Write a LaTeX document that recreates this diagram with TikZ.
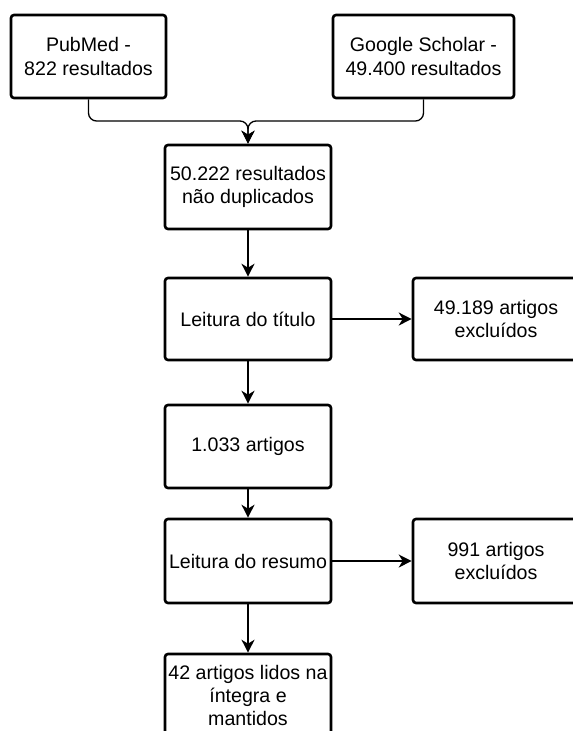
\documentclass[tikz,border=0pt]{standalone}
\usepackage{fontspec}
\setmainfont{Liberation Sans}
\usetikzlibrary{arrows.meta}
\begin{document}
\begin{tikzpicture}[x=1pt,y=-1pt,
  box/.style={draw=black, line width=2.6pt, rounded corners=3pt, rectangle, inner sep=0pt,
    align=center, font=\fontsize{19.6}{23.3}\selectfont, fill=white},
  conn/.style={draw=black, line width=1.3pt, -{Stealth[length=13pt,width=13pt,inset=4pt]}}]
\useasboundingbox (0,0) rectangle (573,731);
\node[box, minimum width=155pt, minimum height=83pt] (pub) at (88.5,56.5) {PubMed -\\822 resultados};
\node[box, minimum width=181pt, minimum height=83pt] (gs) at (423.5,56.5) {Google Scholar -\\49.400 resultados};
\node[box, minimum width=166pt, minimum height=84pt] (dedup) at (248,187) {50.222 resultados\\não duplicados};
\node[box, minimum width=166pt, minimum height=82pt] (titulo) at (248,319) {Leitura do título};
\node[box, minimum width=166pt, minimum height=82pt] (excl1) at (496,319) {49.189 artigos\\excluídos};
\node[box, minimum width=166pt, minimum height=83pt] (a1033) at (248,446.5) {1.033 artigos};
\node[box, minimum width=166pt, minimum height=84pt] (resumo) at (248,561) {Leitura do resumo};
\node[box, minimum width=166pt, minimum height=84pt] (excl2) at (496,561) {991 artigos\\excluídos};
\node[box, minimum width=166pt, minimum height=83pt] (final) at (248,695.5) {42 artigos lidos na\\íntegra e\\mantidos};
\coordinate (h) at (248,121);
\draw[conn, rounded corners=8pt] (pub.south) -- (pub.south |- h) -- (h) -- (dedup.north);
\draw[conn, rounded corners=8pt] (gs.south) -- (gs.south |- h) -- (h) -- (dedup.north);
\draw[conn] (dedup) -- (titulo);
\draw[conn] (titulo) -- (excl1);
\draw[conn] (titulo) -- (a1033);
\draw[conn] (a1033) -- (resumo);
\draw[conn] (resumo) -- (excl2);
\draw[conn] (resumo) -- (final);
\end{tikzpicture}
\end{document}
